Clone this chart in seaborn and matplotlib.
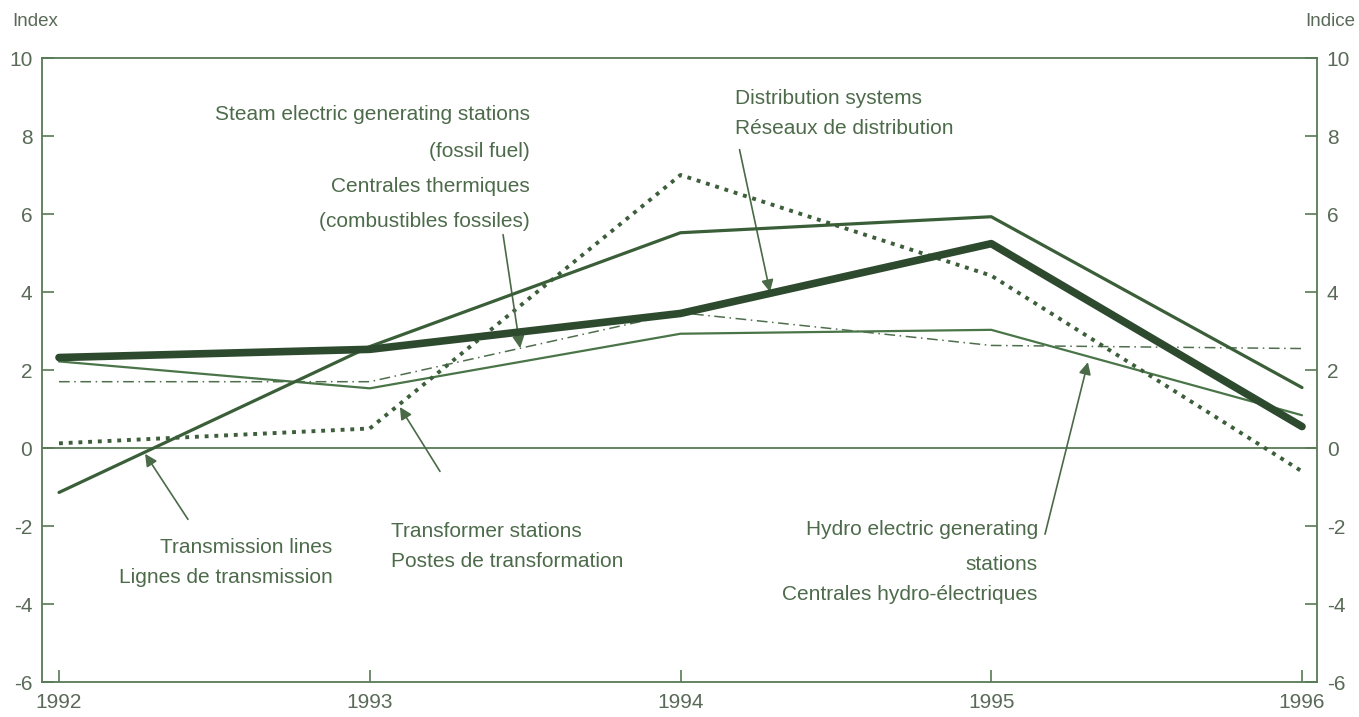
import matplotlib
matplotlib.use("Agg")
import matplotlib.pyplot as plt
import seaborn as sns
import pandas as pd

years = [1992, 1993, 1994, 1995, 1996]
distribution = [2.32, 2.53, 3.45, 5.24, 0.55]
transmission = [-1.14, 2.60, 5.52, 5.93, 1.55]
transformer = [0.12, 0.50, 7.00, 4.42, -0.60]
hydro = [2.22, 1.53, 2.93, 3.03, 0.84]
steam = [1.70, 1.70, 3.47, 2.63, 2.55]
y_ticks = [10, 8, 6, 4, 2, 0, -2, -4, -6]

sns.set_theme(style="white")
plt.rcParams['font.family'] = ['Liberation Sans Narrow', 'Liberation Sans', 'DejaVu Sans']

TXT = "#4d6b4b"
AX = "#567a54"

fig = plt.figure(figsize=(13.59, 7.17), dpi=100)
ax = fig.add_axes([42/1359, 1-682/717, (1317-42)/1359, (682-58)/717])

df = pd.DataFrame({"year": years, "dist": distribution, "trans": transmission,
                   "transf": transformer, "hydro": hydro, "steam": steam})

ax.axhline(0, color=AX, lw=1.3, zorder=1)
sns.lineplot(data=df, x="year", y="steam", ax=ax, color="#4f6e4d", lw=1.1, zorder=2)
ax.lines[-1].set_dashes([7, 3, 1, 3])
sns.lineplot(data=df, x="year", y="hydro", ax=ax, color="#4a7548", lw=1.6, zorder=3)
sns.lineplot(data=df, x="year", y="transf", ax=ax, color="#3d5e3b", lw=2.8, zorder=3)
ax.lines[-1].set_linestyle((0, (1, 1.5)))
sns.lineplot(data=df, x="year", y="trans", ax=ax, color="#3a5f38", lw=2.3, zorder=4)
sns.lineplot(data=df, x="year", y="dist", ax=ax, color="#2e4a2e", lw=5.5,
             zorder=5, solid_capstyle="round")

ax.set_xlim(1992 - 17/310.75, 1996 + 15/310.75)
ax.set_ylim(-6, 10)
ax.set_xticks(years)
ax.set_xticklabels([str(y) for y in years])
ax.set_yticks(y_ticks)
ax.set_yticklabels([str(t) for t in y_ticks])
ax.set_xlabel("")
ax.set_ylabel("")
for s in ax.spines.values():
    s.set_color(AX)
    s.set_linewidth(1.3)
ax.tick_params(axis="both", direction="in", length=8.5, width=1.2, color=AX,
               labelcolor="#5a6a58", labelsize=15)
ax.tick_params(axis="y", left=True, right=True, labelleft=True, labelright=True, pad=7)
ax.tick_params(axis="x", bottom=True, pad=8)
ax.grid(False)

fig.text(12/1359, 1-22/717, "Index", fontsize=13.5, color="#5a6a58", va="center", ha="left")
fig.text(1355/1359, 1-22/717, "Indice", fontsize=13.5, color="#5a6a58", va="center", ha="right")

fs = 15
ap = dict(arrowstyle="-|>", color="#4a6a48", lw=1.2, mutation_scale=18, shrinkA=0, shrinkB=0)

# Steam
ax.text(1993.516, 8.54, "Steam electric generating stations", ha="right", va="center", fontsize=fs, color=TXT)
ax.text(1993.516, 7.59, "(fossil fuel)", ha="right", va="center", fontsize=fs, color=TXT)
ax.text(1993.516, 6.70, "Centrales thermiques", ha="right", va="center", fontsize=fs, color=TXT)
ax.text(1993.516, 5.80, "(combustibles fossiles)", ha="right", va="center", fontsize=fs, color=TXT)
ax.annotate("", xy=(1993.484, 2.56), xytext=(1993.429, 5.47), arrowprops=ap)

# Distribution
ax.text(1994.175, 8.97, "Distribution systems", ha="left", va="center", fontsize=fs, color=TXT)
ax.text(1994.175, 8.20, "Réseaux de distribution", ha="left", va="center", fontsize=fs, color=TXT)
ax.annotate("", xy=(1994.288, 4.0), xytext=(1994.19, 7.65), arrowprops=ap)

# Transmission
ax.text(1992.88, -2.55, "Transmission lines", ha="right", va="center", fontsize=fs, color=TXT)
ax.text(1992.88, -3.32, "Lignes de transmission", ha="right", va="center", fontsize=fs, color=TXT)
ax.annotate("", xy=(1992.277, -0.15), xytext=(1992.415, -1.83), arrowprops=ap)

# Transformer
ax.text(1993.068, -2.13, "Transformer stations", ha="left", va="center", fontsize=fs, color=TXT)
ax.text(1993.068, -2.90, "Postes de transformation", ha="left", va="center", fontsize=fs, color=TXT)
ax.annotate("", xy=(1993.097, 1.05), xytext=(1993.226, -0.60), arrowprops=ap)

# Hydro
ax.text(1995.15, -2.09, "Hydro electric generating", ha="right", va="center", fontsize=fs, color=TXT)
ax.text(1995.15, -2.99, "stations", ha="right", va="center", fontsize=fs, color=TXT)
ax.text(1995.15, -3.75, "Centrales hydro-électriques", ha="right", va="center", fontsize=fs, color=TXT)
ax.annotate("", xy=(1995.311, 2.2), xytext=(1995.173, -2.21), arrowprops=ap)

fig.savefig("out.png", dpi=100, facecolor="white")
